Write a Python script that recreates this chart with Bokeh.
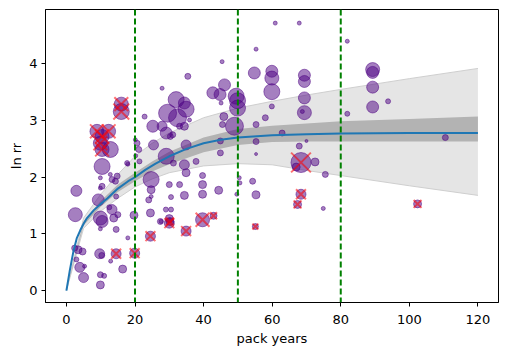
from bokeh.plotting import figure
from bokeh.models import Range1d, FixedTicker, ColumnDataSource, Span
from bokeh.embed import file_html
from bokeh.resources import INLINE

# ---- data ----
curve_x = [0, 1, 2, 3, 4, 5, 6, 8, 10, 12, 15, 18, 20, 23, 26, 30, 35, 40, 45, 50, 60, 70, 80, 100, 120]
curve_y = [0, 0.36, 0.68, 0.92, 1.06, 1.18, 1.28, 1.42, 1.53, 1.63, 1.8, 1.93, 2.0, 2.13, 2.24, 2.37, 2.5, 2.6, 2.66, 2.7, 2.74, 2.76, 2.77, 2.78, 2.78]

band_x = [0, 5, 10, 15, 20, 25, 30, 40, 50, 60, 70, 80, 100, 120]
ci_lo = [0, 1.15, 1.48, 1.74, 1.93, 2.1, 2.23, 2.44, 2.57, 2.62, 2.63, 2.63, 2.63, 2.63]
ci_hi = [0, 1.22, 1.58, 1.87, 2.08, 2.28, 2.45, 2.7, 2.85, 2.91, 2.95, 2.99, 3.03, 3.07]
pi_lo = [0, 1.1, 1.4, 1.63, 1.83, 1.97, 2.08, 2.2, 2.24, 2.22, 2.12, 2.03, 1.85, 1.68]
pi_hi = [0, 1.28, 1.7, 2.05, 2.37, 2.6, 2.78, 3.05, 3.22, 3.34, 3.45, 3.55, 3.74, 3.92]

pack_years = [2.6, 2.9, 2.4, 3.4, 4.7, 3.9, 5.0, 2.9, 5.3, 9.7, 10.3, 9.9, 11.0, 9.9,
              14.5, 19.9, 12.9, 16.4, 9.9, 14.5, 17.9, 19.7, 24.5, 27.4, 24.5,
              9.9, 10.4, 13.3, 13.8, 15.0, 12.5, 9.3, 9.9, 13.3, 14.8, 12.8, 9.9, 14.5, 10.4,
              10.4, 16.0, 16.0, 8.9, 12.3, 10.4, 9.9, 10.4, 12.8, 17.9,
              22.8, 27.9, 35.4, 45.4, 55.3, 60.9, 67.9, 81.9, 54.8, 59.9, 59.9, 59.9, 59.9,
              58.0, 55.3, 69.4, 69.4, 69.4, 69.4, 68.8, 89.3, 89.3, 89.3, 89.3, 81.9, 93.8,
              62.9, 67.9, 70.0, 68.4, 67.0, 72.5, 75.5, 68.4, 67.4, 74.9, 110.5, 102.4,
              29.5, 32.0, 34.4, 34.9, 32.4, 25.2, 29.1, 25.4, 33.0, 34.4, 35.9, 30.3, 29.1,
              31.2, 27.9, 31.0, 34.9, 34.4, 34.9, 37.8, 39.7, 44.9, 44.9, 55.3, 55.3,
              33.0, 30.0, 39.7, 34.4, 39.7, 44.4, 30.5, 49.7, 50.4, 50.6, 54.3, 55.3,
              29.0, 30.5, 30.0, 30.0, 30.2, 27.6, 34.9, 39.7, 42.9, 55.1,
              42.7, 46.1, 44.8, 49.5, 49.9, 49.9, 49.0, 45.1, 45.9, 45.5,
              20.6, 21.1, 21.3, 20.1, 20.2, 17.7, 14.3, 24.7, 24.7, 24.7, 24.0]
ln_rr = [1.34, 1.76, 0.75, 0.72, 0.69, 0.41, 0.23, 0.55, 0.43, 0.65, 0.62, 0.28, 0.26, 0.10,
         0.65, 0.66, 0.52, 0.38, 1.09, 1.08, 0.93, 1.33, 1.37, 1.22, 0.96,
         1.28, 1.22, 1.43, 1.28, 1.34, 1.47, 1.60, 1.81, 1.96, 2.02, 2.05, 1.99, 1.66, 1.84,
         2.19, 3.29, 3.16, 2.81, 2.81, 2.72, 2.60, 2.49, 2.49, 2.23,
         3.07, 3.57, 3.78, 4.04, 4.26, 4.72, 4.72, 4.40, 3.84, 3.87, 3.75, 3.51, 3.25,
         3.05, 2.93, 3.80, 3.69, 3.40, 3.14, 3.16, 3.90, 3.85, 3.59, 3.24, 3.12, 3.34,
         2.78, 2.55, 2.64, 2.26, 2.18, 2.27, 2.05, 1.70, 1.52, 1.45, 2.70, 1.53,
         3.13, 3.37, 3.31, 3.20, 3.05, 2.90, 2.78, 2.57, 2.90, 2.90, 3.01, 2.72, 2.37,
         2.25, 2.90, 2.75, 2.57, 2.22, 2.08, 2.28, 2.03, 2.43, 2.64, 2.63, 2.41,
         1.87, 1.87, 1.87, 1.68, 1.70, 1.77, 1.65, 1.70, 1.99, 1.90, 1.93, 1.69,
         1.43, 1.43, 1.27, 1.19, 1.22, 1.22, 1.05, 1.25, 1.32, 1.13,
         3.49, 3.63, 3.46, 3.43, 3.35, 3.22, 2.90, 3.31, 3.07, 2.93,
         2.60, 2.49, 2.28, 2.66, 2.38, 2.25, 1.93, 1.96, 1.78, 1.66, 1.60]
weight = [7, 5.5, 3, 4, 3.5, 5, 5, 2.5, 2, 5, 3, 3, 2.5, 4,
          5, 5, 2, 4, 2, 3, 2, 4, 4, 3, 5,
          7, 6, 5, 4, 3, 2.5, 6, 2, 3, 3, 2, 2, 2.5, 3,
          8, 7, 8, 7, 7, 7, 7, 7, 8, 2,
          2.5, 2, 3, 2, 2, 2, 2, 2, 6, 6, 7, 8, 2.5,
          3, 3, 6, 6, 6, 7, 2, 7, 6, 6, 6, 2.5, 2.5,
          3, 3, 1.5, 10, 4, 4, 3, 5, 4, 2, 3, 4,
          9, 8, 6, 8, 9, 6, 6, 5, 3, 4, 2, 3, 8,
          3, 5, 3, 5, 5, 4, 3, 3, 3, 3, 3, 1.5,
          3, 3, 4, 4, 4, 4, 2.5, 2, 2, 2, 3, 4,
          2.5, 2.5, 4, 5, 4, 2, 5, 7, 3.5, 3,
          6, 6, 6, 8, 8, 8, 9, 2, 4, 3,
          3, 3, 2.5, 2, 2, 2.5, 3, 8, 4, 2, 3]
flagged = [0] * len(pack_years)
for i in [14, 15, 24, 40, 41, 42, 43, 44, 45, 46, 78, 82, 83, 86,
          127, 128, 130, 131, 132, 133]:
    flagged[i] = 1

x_ticks = [0, 20, 40, 60, 80, 100, 120]
y_ticks = [0, 1, 2, 3, 4]
cutoffs = [20, 50, 80]

# ---- figure ----
p = figure(frame_width=453, frame_height=293,
           x_range=Range1d(-6.1, 126), y_range=Range1d(-0.21, 4.96),
           output_backend="svg", toolbar_location=None,
           min_border_left=30, min_border_right=9, min_border_top=9, min_border_bottom=40)
p.margin = (0, 0, 0, 6)
p.background_fill_color = "white"
p.border_fill_color = "white"
p.outline_line_color = "black"
p.outline_line_width = 1
p.xgrid.visible = False
p.ygrid.visible = False

p.varea(x=band_x, y1=pi_lo, y2=pi_hi, fill_color="#e5e5e5")
p.line(band_x, pi_lo, line_color="#cfcfcf", line_width=1)
p.line(band_x, pi_hi, line_color="#cfcfcf", line_width=1)
p.varea(x=band_x, y1=ci_lo, y2=ci_hi, fill_color="#b3b3b3")

sizes = [2 * w for w in weight]
src = ColumnDataSource(dict(x=pack_years, y=ln_rr, s=sizes))
p.scatter("x", "y", size="s", source=src, marker="circle",
          fill_color="#4b0082", fill_alpha=0.5, line_color="#4b0082", line_alpha=0.5)

fx = [x for x, f in zip(pack_years, flagged) if f]
fy = [y for y, f in zip(ln_rr, flagged) if f]
fs = [1.4 * s for s, f in zip(sizes, flagged) if f]
p.scatter(x=fx, y=fy, size=fs, marker="x", line_color="red", line_alpha=0.55, line_width=2)

p.line(curve_x, curve_y, line_color="#1f77b4", line_width=2)

for c in cutoffs:
    p.add_layout(Span(location=c, dimension="height", line_color="green",
                      line_dash="6 3", line_width=2))

for ax in (p.xaxis[0], p.yaxis[0]):
    ax.major_tick_in = 0
    ax.major_tick_out = 4
    ax.minor_tick_line_color = None
    ax.axis_line_color = "black"
    ax.major_label_text_font = "DejaVu Sans"
    ax.major_label_text_font_size = "13px"
    ax.axis_label_text_font = "DejaVu Sans"
    ax.axis_label_text_font_size = "13px"
    ax.axis_label_text_font_style = "normal"
    ax.major_label_text_color = "black"
    ax.axis_label_text_color = "black"

p.xaxis.ticker = FixedTicker(ticks=x_ticks)
p.yaxis.ticker = FixedTicker(ticks=y_ticks)
p.xaxis.axis_label = "pack years"
p.yaxis.axis_label = "ln rr"
p.xaxis.major_label_standoff = 8
p.yaxis.major_label_standoff = 4
p.xaxis.axis_label_standoff = 4
p.yaxis.axis_label_standoff = 2

open("out.html", "w").write(file_html(p, INLINE))
